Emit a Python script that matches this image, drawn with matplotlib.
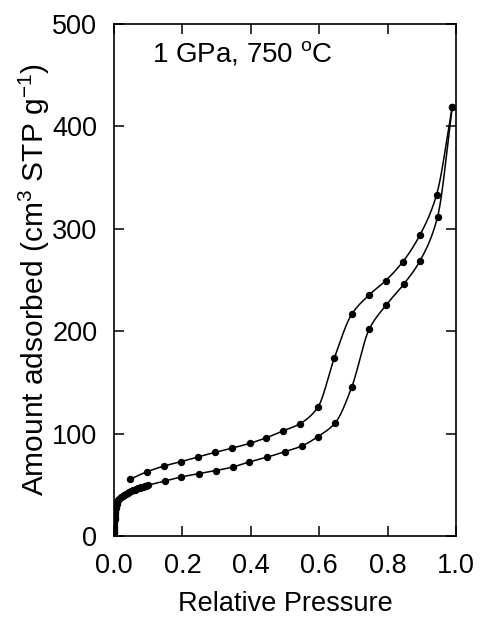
import matplotlib
matplotlib.use("Agg")
import matplotlib.pyplot as plt
import numpy as np

# Adsorption branch (relative pressure, amount adsorbed)
ads_p = [0.0002, 0.0003, 0.0004, 0.0005, 0.0006, 0.0008, 0.001, 0.0012, 0.0015, 0.002,
         0.0025, 0.003, 0.004, 0.005, 0.006, 0.008, 0.010, 0.013, 0.016, 0.020,
         0.025, 0.030, 0.035, 0.040, 0.045, 0.050, 0.055, 0.060, 0.065, 0.070,
         0.075, 0.080, 0.085, 0.090, 0.095, 0.100,
         0.149, 0.196, 0.248, 0.297, 0.347, 0.396, 0.446, 0.499, 0.549, 0.596,
         0.647, 0.695, 0.746, 0.795, 0.847, 0.895, 0.946, 0.989]
ads_v = [1, 3, 5, 7, 9, 11, 13, 15, 17, 19,
         21, 23, 25, 27, 29, 31, 33, 35, 36.5, 38,
         39.5, 40.5, 41.5, 42.3, 43.0, 43.8, 44.5, 45.2, 45.8, 46.4,
         47.0, 47.6, 48.1, 48.6, 49.1, 49.6,
         53.7, 57.6, 60.9, 63.8, 67.4, 72.3, 76.8, 82.3, 87.9, 97.0,
         110.6, 145.2, 201.8, 225.3, 245.8, 268.9, 311.5, 419]

# Desorption branch
des_p = [0.989, 0.943, 0.894, 0.844, 0.794, 0.746, 0.695, 0.644, 0.596, 0.544,
         0.494, 0.444, 0.397, 0.346, 0.296, 0.247, 0.196, 0.147, 0.097, 0.047]
des_v = [419, 333, 293.6, 267.6, 249.3, 235.4, 216.5, 173.5, 125.7, 109.7,
         102.6, 95.8, 90.5, 85.9, 81.7, 77.4, 72.6, 68.4, 62.8, 55.4]

x_ticks = [0.0, 0.2, 0.4, 0.6, 0.8, 1.0]
y_ticks = [0, 100, 200, 300, 400, 500]

plt.rcParams['font.family'] = ['Liberation Sans', 'DejaVu Sans']
plt.rcParams['mathtext.fontset'] = 'custom'
plt.rcParams['mathtext.rm'] = 'Liberation Sans'
plt.rcParams['mathtext.it'] = 'Liberation Sans:italic'
plt.rcParams['mathtext.default'] = 'regular'


def smooth_curve(x, y, n=20):
    """Monotone cubic (Fritsch-Carlson) curve through the points, for drawing."""
    x = np.asarray(x, float)
    y = np.asarray(y, float)
    order = np.argsort(x)
    x, y = x[order], y[order]
    h = np.diff(x)
    d = np.diff(y) / h
    m = np.zeros_like(x)
    m[0], m[-1] = d[0], d[-1]
    for i in range(1, len(x) - 1):
        if d[i - 1] * d[i] <= 0:
            m[i] = 0
        else:
            w1 = 2 * h[i] + h[i - 1]
            w2 = h[i] + 2 * h[i - 1]
            m[i] = (w1 + w2) / (w1 / d[i - 1] + w2 / d[i])
    xs, ys = [], []
    for i in range(len(x) - 1):
        t = np.linspace(0, 1, n, endpoint=False)
        h00 = 2 * t**3 - 3 * t**2 + 1
        h10 = t**3 - 2 * t**2 + t
        h01 = -2 * t**3 + 3 * t**2
        h11 = t**3 - t**2
        xs.append(x[i] + t * h[i])
        ys.append(h00 * y[i] + h10 * h[i] * m[i] + h01 * y[i + 1] + h11 * h[i] * m[i + 1])
    xs.append([x[-1]])
    ys.append([y[-1]])
    return np.concatenate(xs), np.concatenate(ys)


fig = plt.figure(figsize=(4.8, 6.17), dpi=100)
ax = fig.add_axes([114/480, 81/617, 342/480, 512/617])

for p, v in ((ads_p, ads_v), (des_p, des_v)):
    sx, sy = smooth_curve(p, v)
    ax.plot(sx, sy, color='black', lw=1.1)
    ax.plot(p, v, linestyle='none', marker='o', ms=4.3,
            markerfacecolor='black', markeredgecolor='black')

ax.set_xlim(0, 1.0)
ax.set_ylim(0, 500)
ax.set_xticks(x_ticks)
ax.set_xticklabels([f"{t:.1f}" for t in x_ticks])
ax.set_yticks(y_ticks)
ax.set_yticklabels([str(t) for t in y_ticks])
ax.tick_params(direction='in', length=7, width=1.1, labelsize=19.5,
               top=True, right=True)
ax.tick_params(axis='x', pad=12)
ax.tick_params(axis='y', pad=12)
for s in ax.spines.values():
    s.set_linewidth(1.2)

ax.set_xlabel('Relative Pressure', fontsize=19.5, labelpad=9)
ax.set_ylabel('Amount adsorbed (cm$^3$ STP g$^{-1}$)', fontsize=21.5, labelpad=0)
ax.text(0.111, 471, '1 GPa, 750 $^{\\rm o}$C', fontsize=20, va='center', ha='left')

fig.savefig('out.png', dpi=100)
